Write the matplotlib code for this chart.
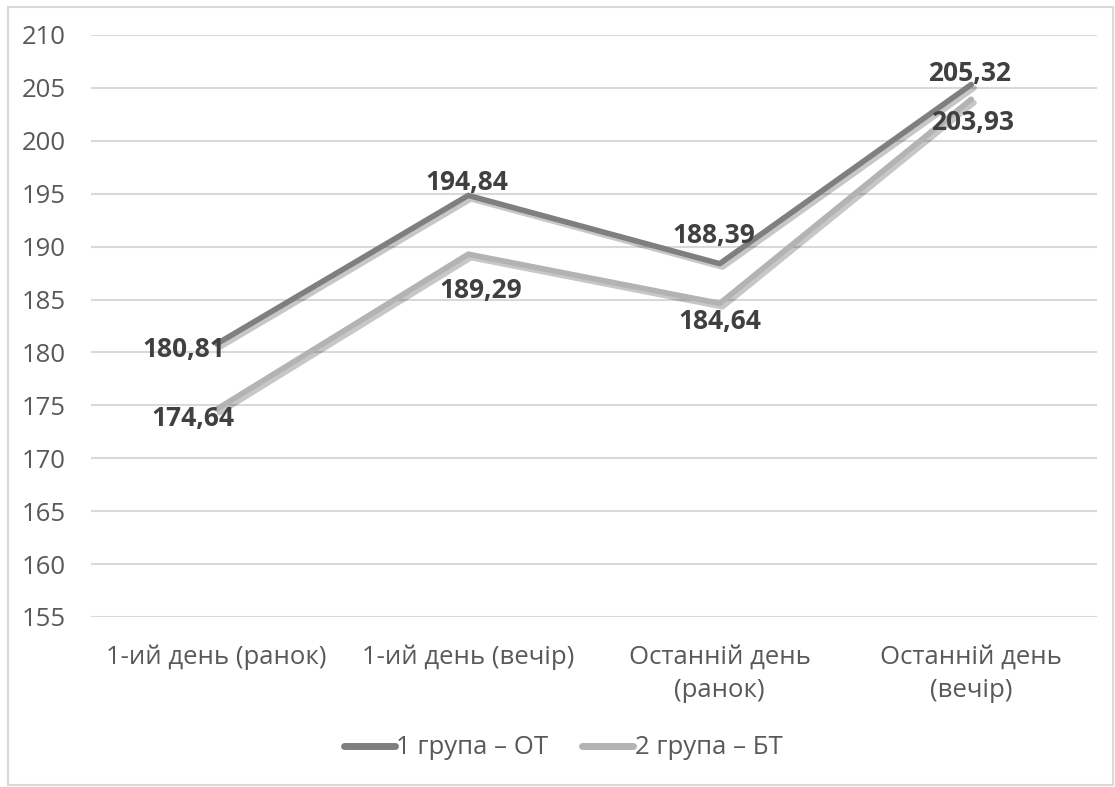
import matplotlib
matplotlib.use("Agg")
import matplotlib.pyplot as plt
import matplotlib.patheffects as pe
from matplotlib.patches import Rectangle
from matplotlib.lines import Line2D

plt.rcParams['font.family'] = ['Open Sans', 'DejaVu Sans']

categories = ["1-ий день (ранок)", "1-ий день (вечір)",
              "Останній день\n(ранок)", "Останній день\n(вечір)"]
group1 = [180.81, 194.84, 188.39, 205.32]
group2 = [174.64, 189.29, 184.64, 203.93]
series_names = ["1 група – ОТ", "2 група – БТ"]
colors = ['#7f7f7f', '#b3b3b3']
yticks = list(range(155, 211, 5))

# label offsets in points, per point
offsets1 = [(-24, -4), (-1, 9), (-4, 20), (-1, 8)]
offsets2 = [(-17, -7), (9, -26), (0, -13), (1, -17)]

fig = plt.figure(figsize=(11.15, 7.87), dpi=100)
fig.patches.append(Rectangle((8 / 1115, 2 / 787), 1105 / 1115, 778 / 787,
                             transform=fig.transFigure, fill=False,
                             edgecolor='#d9d9d9', linewidth=1.5))
ax = fig.add_axes([91 / 1115, 1 - 617 / 787, 1006 / 1115, 582 / 787])

x = list(range(len(categories)))
shadow = [pe.SimpleLineShadow(offset=(2, -2.5), shadow_color='#000000', alpha=0.22),
          pe.Normal()]
for vals, c in zip((group1, group2), colors):
    ax.plot(x, vals, color=c, lw=4, solid_capstyle='round',
            path_effects=shadow, zorder=3)

for vals, offs in ((group1, offsets1), (group2, offsets2)):
    for xi, v, o in zip(x, vals, offs):
        ax.annotate(f"{v:.2f}".replace('.', ','), (xi, v), xytext=o,
                    textcoords='offset points', ha='center', va='center',
                    fontsize=19, fontweight='bold', color='#404040', zorder=4)

ax.set_xlim(-0.5, len(categories) - 0.5)
ax.set_ylim(155, 210)
ax.set_yticks(yticks)
ax.set_xticks(x)
ax.set_xticklabels(categories, linespacing=1.45)
ax.tick_params(axis='y', length=0, pad=18, labelsize=18.5, labelcolor='#595959')
ax.tick_params(axis='x', length=0, pad=20, labelsize=18.5, labelcolor='#595959')
ax.grid(axis='y', color='#d9d9d9', lw=1.5)
ax.set_axisbelow(True)
for s in ax.spines.values():
    s.set_visible(False)

handles = [Line2D([], [], color=c, lw=5, solid_capstyle='round') for c in colors]
fig.legend(handles, series_names, loc='center',
           bbox_to_anchor=(563 / 1115, 1 - 748 / 787), ncol=2,
           frameon=False, fontsize=18.5, handlelength=2.0, handletextpad=0.05,
           columnspacing=1.3, labelcolor='#595959')

fig.savefig("out.png", dpi=100)
